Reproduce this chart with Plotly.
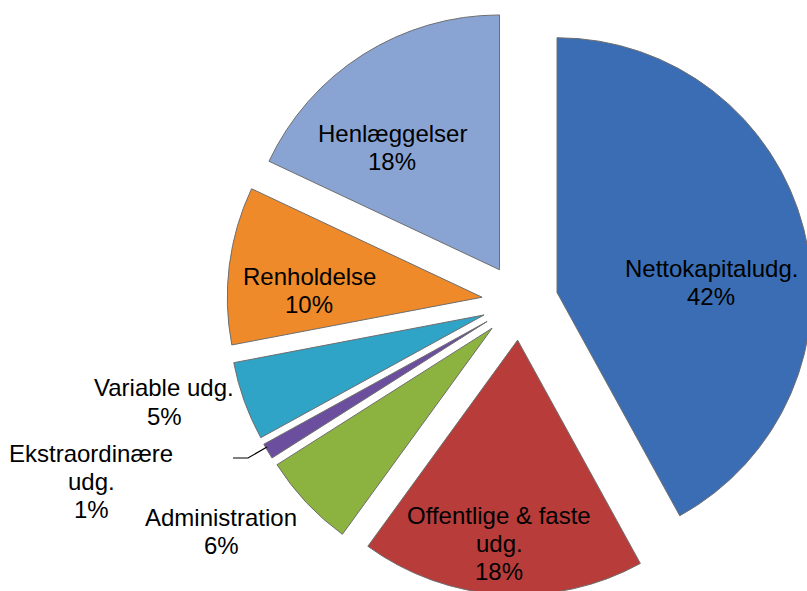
import plotly.graph_objects as go

labels = ["Nettokapitaludg.", "Offentlige & faste udg.", "Administration",
          "Ekstraordinære udg.", "Variable udg.", "Renholdelse", "Henlæggelser"]
values = [42, 18, 6, 1, 5, 10, 18]
colors = ["#3A6DB4", "#B83C3A", "#8CB33F", "#6C4E9E", "#30A4C6", "#EE8A2A", "#89A4D3"]

# how each label is broken into lines in the chart
label_lines = [["Nettokapitaludg."], ["Offentlige & faste", "udg."], ["Administration"],
               ["Ekstraordinære", "udg."], ["Variable udg."], ["Renholdelse"], ["Henlæggelser"]]

# figure slightly larger than the 807x591 window so the exploded slices are cut at the edges
W, H = 820, 600
# pixel position (center of first line) of each label block
label_pos = [(711, 268), (499, 515), (221, 517), (91, 453), (164, 388), (309, 276), (392, 133)]
line_step = 28

fig = go.Figure(go.Pie(
    labels=labels, values=values, sort=False, direction="clockwise", rotation=0,
    marker=dict(colors=colors, line=dict(color="#6E6E6E", width=1)),
    pull=[0.15] * len(values), textinfo="none", hoverinfo="skip",
    showlegend=False,
    domain=dict(x=[0.2768, 0.9915], y=[0.0083, 0.985]),
))

total = sum(values)
annotations = []
for lines, v, (px, py) in zip(label_lines, values, label_pos):
    all_lines = lines + [f"{round(100 * v / total)}%"]
    for k, t in enumerate(all_lines):
        annotations.append(dict(
            text=t, x=px / W, y=1 - (py + k * line_step) / H, xref="paper", yref="paper",
            xanchor="center", yanchor="middle", showarrow=False,
            font=dict(family="Liberation Sans, Arial, sans-serif", size=24, color="#000000"),
        ))

fig.update_layout(
    width=W, height=H, margin=dict(l=0, r=0, t=0, b=0),
    paper_bgcolor="white", plot_bgcolor="white",
    annotations=annotations,
    shapes=[dict(type="path", path=f"M {233/W},{1-458/H} L {248/W},{1-458/H} L {267/W},{1-447/H}",
                 xref="paper", yref="paper", line=dict(color="#000000", width=1.2))],
)

fig.write_html("out.html", config={"displayModeBar": False},
               post_script="document.body.style.margin='0';document.body.style.overflow='hidden';")
